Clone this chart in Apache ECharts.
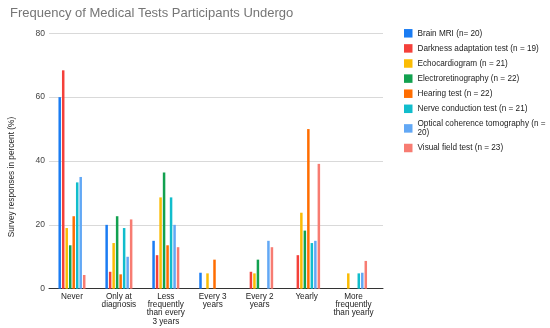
<!DOCTYPE html>
<html><head><meta charset="utf-8">
<script src="https://cdn.jsdelivr.net/npm/echarts@6/dist/echarts.min.js"></script>
<style>html,body{margin:0;padding:0;background:#fff}#c{width:550px;height:328px}</style>
</head><body><div id="c"></div>
<script>
const titleText = 'Frequency of Medical Tests Participants Undergo';
const yAxisName = 'Survey responses in percent (%)';
const categories = ['Never', 'Only at\ndiagnosis', 'Less\nfrequently\nthan every\n3 years', 'Every 3\nyears', 'Every 2\nyears', 'Yearly', 'More\nfrequently\nthan yearly'];
const seriesNames = ['Brain MRI (n= 20)', 'Darkness adaptation test (n = 19)', 'Echocardiogram (n = 21)', 'Electroretinography (n = 22)', 'Hearing test (n = 22)', 'Nerve conduction test (n = 21)', 'Optical coherence tomography (n = 20)', 'Visual field test (n = 23)'];
const brainMRI = [60, 20, 15, 5, 0, 0, 0];
const darknessAdaptation = [68.4, 5.3, 10.5, 0, 5.3, 10.5, 0];
const echocardiogram = [19.0, 14.3, 28.6, 4.8, 4.8, 23.8, 4.8];
const electroretinography = [13.6, 22.7, 36.4, 0, 9.1, 18.2, 0];
const hearingTest = [22.7, 4.5, 13.6, 9.1, 0, 50.0, 0];
const nerveConduction = [33.3, 19.0, 28.6, 0, 0, 14.3, 4.8];
const opticalCoherence = [35, 10, 20, 0, 15, 15, 5];
const visualField = [4.3, 21.7, 13.0, 0, 13.0, 39.1, 8.7];
const yTicks = [0, 20, 40, 60, 80];

const allData = [brainMRI, darknessAdaptation, echocardiogram, electroretinography, hearingTest, nerveConduction, opticalCoherence, visualField];
const colors = ['#1a7cf3', '#f4403a', '#fbbc04', '#12a14f', '#ff6d01', '#11bdcc', '#62a8f5', '#f77c72'];
const font = 'Liberation Sans, Arial, sans-serif';

const chart = echarts.init(document.getElementById('c'), null, {renderer: 'canvas'});
const series = allData.map((d, i) => ({
  name: seriesNames[i], type: 'bar', xAxisIndex: 1, yAxisIndex: 1,
  data: d, barWidth: 2.5, barGap: '40%', itemStyle: {color: colors[i]}, animation: false
}));
chart.setOption({
  animation: false,
  color: colors,
  title: {text: titleText, left: 5, top: 2, textStyle: {fontFamily: font, fontSize: 13, fontWeight: 'normal', color: '#757575'}},
  legend: {
    orient: 'vertical', left: 404, top: 28.8, padding: 0, itemGap: 6.1, itemWidth: 8.5, itemHeight: 8.5,
    icon: 'rect', data: seriesNames,
    textStyle: {fontFamily: font, fontSize: 8.2, lineHeight: 9, color: '#222', width: 134, overflow: 'break'}
  },
  grid: [
    {left: 40, right: 167, top: 33.3, bottom: 39.3},
    {left: 48.5, right: 173, top: 33.3, bottom: 39.3}
  ],
  xAxis: [
    {gridIndex: 0, type: 'value', min: 0, max: 1, axisLine: {show: true, onZero: false, lineStyle: {color: '#333', width: 1}}, axisTick: {show: false}, axisLabel: {show: false}, splitLine: {show: false}},
    {gridIndex: 1, type: 'category', data: categories, axisLine: {show: false}, axisTick: {show: false},
     axisLabel: {interval: 0, margin: 3.5, fontFamily: font, fontSize: 8.2, lineHeight: 8.4, color: '#222', verticalAlign: 'top'}}
  ],
  yAxis: [
    {gridIndex: 0, type: 'value', min: yTicks[0], max: yTicks[yTicks.length - 1], interval: 20,
     axisLine: {show: false}, axisTick: {show: false},
     axisLabel: {margin: 4, fontFamily: font, fontSize: 8.5, color: '#444'},
     splitLine: {show: true, lineStyle: {color: '#d9d9d9', width: 1}},
     name: yAxisName, nameLocation: 'middle', nameGap: 33, nameMoveOverlap: false,
     nameTextStyle: {fontFamily: font, fontSize: 8.3, color: '#222', padding: [0, 32, 0, 0]}},
    {gridIndex: 1, type: 'value', min: 0, max: 80, interval: 20, show: false, splitLine: {show: false}}
  ],
  series: series
});
</script></body></html>
